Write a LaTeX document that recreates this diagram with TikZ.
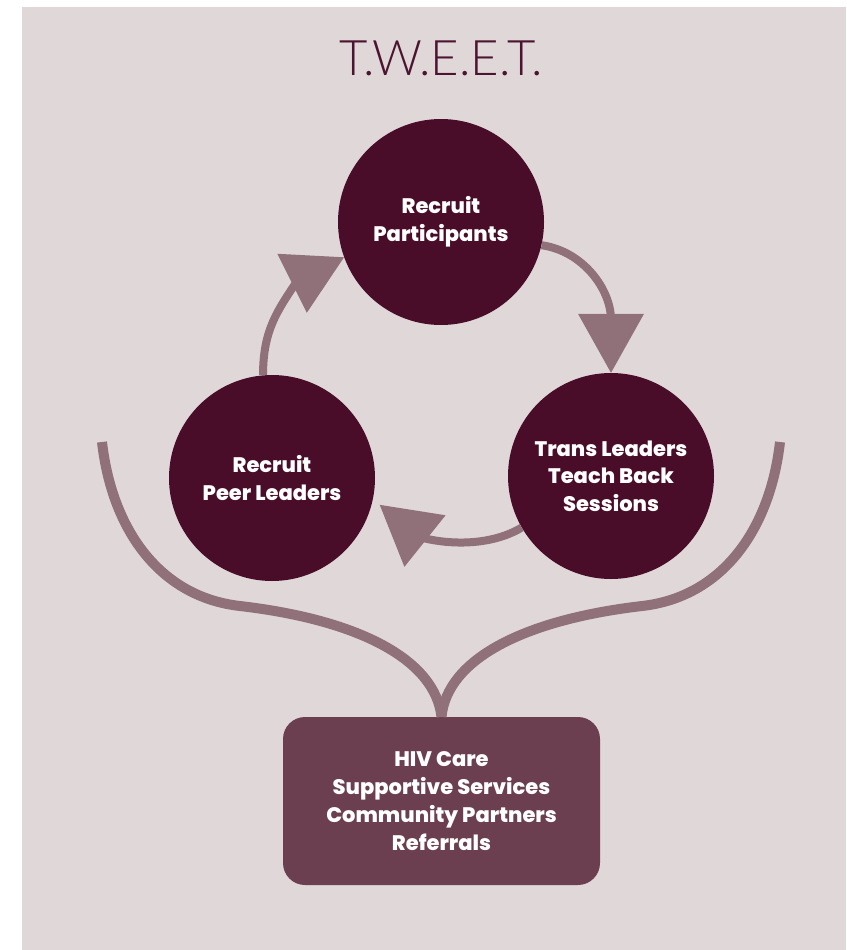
\documentclass[tikz,border=0pt]{standalone}
\usepackage{fontspec}
\setmainfont{Poppins}
\IfFontExistsTF{Poppins ExtraBold}{\newfontfamily\bodyfont{Poppins ExtraBold}}{\newfontfamily\bodyfont{Poppins}[UprightFont=*-Bold]}
\IfFontExistsTF{Lato Light}{\newfontfamily\titlefont{Lato Light}}{\newfontfamily\titlefont{Lato}}
\usetikzlibrary{calc}
\definecolor{bgc}{HTML}{E0D7D8}
\definecolor{circc}{HTML}{490D29}
\definecolor{arrc}{HTML}{907079}
\definecolor{boxc}{HTML}{6B3F50}
\definecolor{titc}{HTML}{4B1530}
\begin{document}
\begin{tikzpicture}[x=1pt,y=-1pt,
  stage/.style={circle,fill=circc,minimum size=206pt,inner sep=0pt,text=white,align=center,
    font=\bodyfont\fontsize{21}{27.5}\selectfont},
  hub/.style={rectangle,rounded corners=22pt,fill=boxc,minimum width=317pt,minimum height=168pt,
    inner sep=0pt,text=white,align=center,font=\bodyfont\fontsize{21}{28}\selectfont},
  shaft/.style={draw=arrc,line width=8pt},
  tipfill/.style={fill=arrc},
  fork/.style={draw=arrc,line width=10pt}]
\useasboundingbox (0,0) rectangle (846,950);
\fill[bgc] (22,7) rectangle (846,950);

\node[anchor=base,text=titc,font=\titlefont\fontsize{49}{49}\selectfont] (title) at (441,75) {T.W.E.E.T.};

\node[hub] (B) at (441.5,801) {HIV Care\\Supportive Services\\Community Partners\\Referrals};

% fork lines
\coordinate (fl) at (102,442);
\coordinate (fr) at (780,442);
\draw[fork] (fl) .. controls (112,530) and (160,597) .. (240,606) .. controls (360,620) and (435,660) .. (B.north);
\draw[fork] (fr) .. controls (770,530) and (722,597) .. (642,606) .. controls (522,620) and (447,660) .. (B.north);

\node[stage] (T) at (441,222) {Recruit\\Participants};
\node[stage] (L) at (272,478) {Recruit\\Peer Leaders};
\node[stage] (R) at (611,476) {Trans Leaders\\Teach Back\\Sessions};

% arrow L -> T
\coordinate (b1) at ($(T.200)+(-52,26)$);
\draw[shaft] (L.95) .. controls +(0,-45) and +(-20,30) .. ($(b1)!6pt!(T.200)$);
\fill[tipfill] (T.200) -- ($(b1)!33pt!90:(T.200)$) -- ($(b1)!33pt!-90:(T.200)$) -- cycle;

% arrow T -> R
\coordinate (b2) at ($(R.90)+(0,-59)$);
\draw[shaft] (T.-13) .. controls +(42,6) and +(0,-30) .. ($(b2)!6pt!(R.90)$);
\fill[tipfill] (R.90) -- ($(b2)!33pt!90:(R.90)$) -- ($(b2)!33pt!-90:(R.90)$) -- cycle;

% arrow R -> L
\coordinate (t3) at ($(L.center)!111pt!(L.-14)$);
\coordinate (b3) at ($(t3)+(45.3,36.2)$);
\draw[shaft] (R.210) .. controls +(-30,18) and +(30,8) .. ($(b3)!6pt!(t3)$);
\fill[tipfill] (t3) -- ($(b3)!33pt!90:(t3)$) -- ($(b3)!33pt!-90:(t3)$) -- cycle;
\end{tikzpicture}
\end{document}
